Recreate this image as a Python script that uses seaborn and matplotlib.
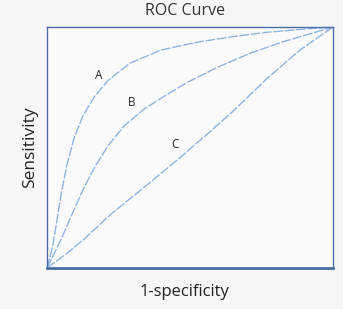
import matplotlib
matplotlib.use("Agg")
import matplotlib.pyplot as plt
import seaborn as sns
import pandas as pd

# data
a_x = [0.0, 0.020, 0.035, 0.050, 0.070, 0.095, 0.125, 0.165, 0.215, 0.290, 0.400, 0.535, 0.651, 0.768, 0.885, 1.0]
a_y = [0.0, 0.090, 0.200, 0.310, 0.430, 0.540, 0.630, 0.710, 0.780, 0.850, 0.905, 0.939, 0.960, 0.978, 0.990, 1.0]
b_x = [0.0, 0.050, 0.090, 0.130, 0.170, 0.215, 0.270, 0.340, 0.420, 0.490, 0.600, 0.710, 0.826, 0.943, 1.0]
b_y = [0.0, 0.120, 0.230, 0.335, 0.425, 0.510, 0.590, 0.660, 0.720, 0.770, 0.835, 0.891, 0.939, 0.980, 1.0]
c_x = [0.0, 0.070, 0.130, 0.225, 0.340, 0.455, 0.550, 0.650, 0.768, 0.885, 1.0]
c_y = [0.0, 0.061, 0.120, 0.225, 0.335, 0.448, 0.545, 0.650, 0.785, 0.905, 1.0]
labels = ["A", "B", "C"]
label_pos = [(0.179, 0.80), (0.296, 0.686), (0.448, 0.513)]

df = pd.concat([
    pd.DataFrame({"x": a_x, "y": a_y, "curve": "A"}),
    pd.DataFrame({"x": b_x, "y": b_y, "curve": "B"}),
    pd.DataFrame({"x": c_x, "y": c_y, "curve": "C"}),
])

sns.set_theme(style="white")
plt.rcParams['font.family'] = ['Open Sans', 'DejaVu Sans']

fig = plt.figure(figsize=(3.43, 3.09), dpi=100)
fig.patch.set_facecolor("#f7f7f7")
ax = fig.add_axes([47/343, 1 - 268/309, 286/343, 241/309])
ax.set_facecolor("#fbfbfb")

line_col = "#8fb4e3"
sns.lineplot(data=df, x="x", y="y", hue="curve", palette=[line_col]*3,
             ax=ax, legend=False, sort=False, estimator=None, linewidth=1.0)
for line in ax.get_lines():
    line.set_dashes([7, 1.2])

for lab, (lx, ly) in zip(labels, label_pos):
    ax.text(lx, ly, lab, fontsize=8.5, color="#222222", ha="center", va="center")

ax.set_xlim(0, 1)
ax.set_ylim(0, 1)
ax.set_xticks([])
ax.set_yticks([])
ax.set_xlabel("")
ax.set_ylabel("")
for s in ax.spines.values():
    s.set_color("#4a6fa8")
    s.set_linewidth(1.0)
ax.spines["bottom"].set_linewidth(2.0)

fig.text(185/343, 1 - 11/309, "ROC Curve", ha="center", va="center", fontsize=11.5, color="#333333")
fig.text(184/343, 1 - 292/309, "1-specificity", ha="center", va="center", fontsize=12, color="#222222")
fig.text(30/343, 1 - 147/309, "Sensitivity", ha="center", va="center", rotation=90, fontsize=12.5, color="#222222")

fig.savefig("out.png", dpi=100, facecolor=fig.get_facecolor())
